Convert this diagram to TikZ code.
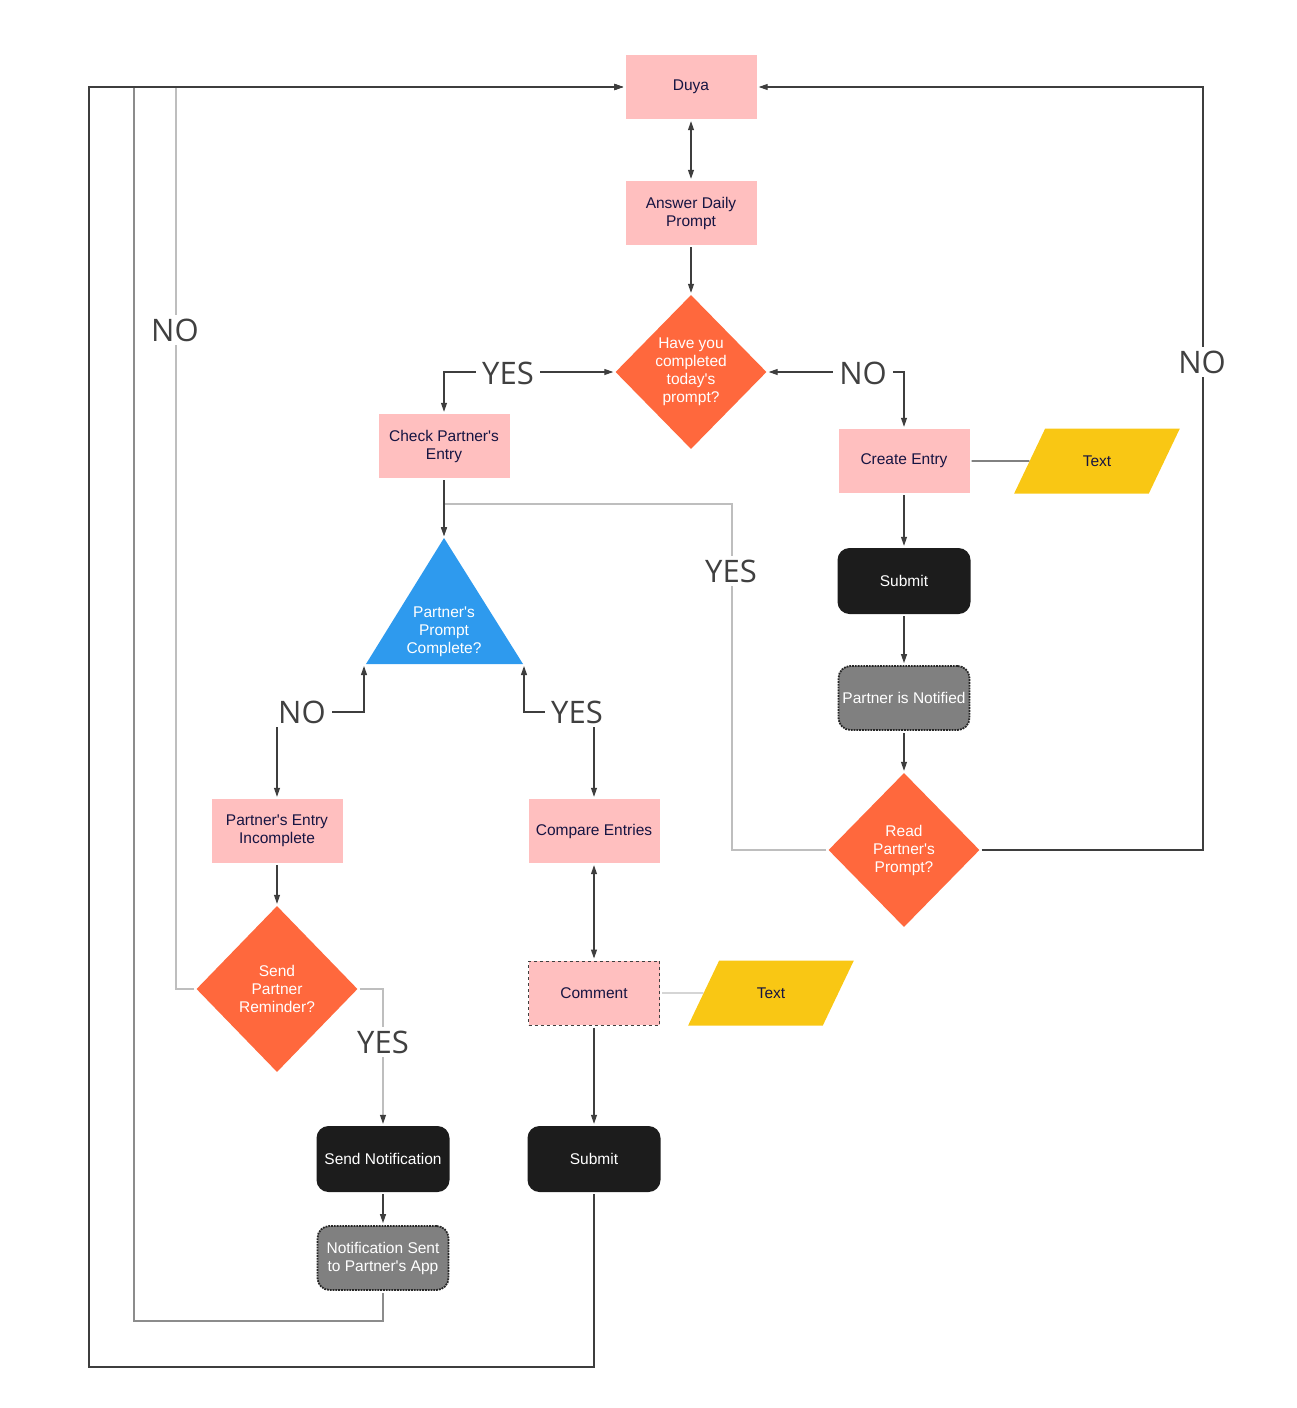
\documentclass[tikz,border=0pt]{standalone}
\usepackage{fontspec}
\setmainfont{Liberation Sans}
\newfontfamily\answerfont{Open Sans}
\usetikzlibrary{
  arrows.meta,
  backgrounds,
  shapes.geometric,
  positioning
}
\definecolor{pinkfill}{RGB}{255,191,191}
\definecolor{navytext}{RGB}{22,20,66}
\definecolor{orangefill}{RGB}{255,104,61}
\definecolor{bluefill}{RGB}{46,154,238}
\definecolor{darkfill}{RGB}{28,28,28}
\definecolor{grayfill}{RGB}{128,128,128}
\definecolor{yellowfill}{RGB}{249,199,20}
\definecolor{linedark}{RGB}{62,62,62}
\definecolor{linemid}{RGB}{140,140,140}
\definecolor{linefaint}{RGB}{190,190,190}
\tikzset{
  >={Triangle[length=9pt,width=6pt]},
  flow/.style={->,line width=1.1pt,draw=linedark,shorten >=2pt,shorten <=2pt},
  faint flow/.style={-{Triangle[length=9pt,width=6pt,color=linedark]},
    line width=1.1pt,draw=linefaint,shorten >=2pt,shorten <=2pt},
  mid flow/.style={-{Triangle[length=9pt,width=6pt,color=linedark]},
    line width=1.1pt,draw=linemid,shorten >=2pt,shorten <=2pt},
  link/.style={line width=1.1pt,draw=linedark,shorten <=2pt},
  faint link/.style={line width=1.1pt,draw=linefaint,shorten <=2pt},
  nodetext/.style={font=\fontsize{15.5}{18}\selectfont,align=center},
  pinkbox/.style={
    nodetext,
    rectangle,
    fill=pinkfill,
    text=navytext,
    minimum width=131pt,
    minimum height=64pt
  },
  decision/.style={
    nodetext,
    diamond,
    fill=orangefill,
    text=white,
    inner sep=0pt,
    minimum width=151pt,
    minimum height=154pt
  },
  darkbox/.style={
    nodetext,
    rounded corners=12pt,
    fill=darkfill,
    text=white,
    minimum width=133pt,
    minimum height=66pt
  },
  notebox/.style={
    nodetext,
    rounded corners=12pt,
    fill=grayfill,
    draw=black!85,
    densely dotted,
    line width=1.8pt,
    text=white,
    inner xsep=2pt,
    minimum width=131pt,
    minimum height=64pt
  },
  databox/.style={
    nodetext,
    trapezium,
    trapezium left angle=59,
    trapezium right angle=121,
    trapezium stretches=true,
    fill=yellowfill,
    text=navytext,
    minimum width=166pt,
    minimum height=65pt
  },
  answer/.style={
    font=\answerfont\fontsize{31}{31}\selectfont,
    text=black!75,
    fill=white,
    inner xsep=6pt,
    inner ysep=4pt
  }
}
\begin{document}
\begin{tikzpicture}[x=1pt,y=-1pt]
  \useasboundingbox (0,0) rectangle (1296,1408);

  % main column
  \node[pinkbox] (duya) at (691,87) {Duya};
  \node[pinkbox] (answer) at (691,213) {Answer Daily\\Prompt};
  \node[decision] (have) at (691,372) {Have you\\completed\\today\textquotesingle s\\prompt?};

  % own entry branch
  \node[pinkbox] (create) at (904,461) {Create Entry};
  \node[databox] (text1) at (1097,461) {Text};
  \node[darkbox] (submitr) at (904,581) {Submit};
  \node[notebox] (notified) at (904,698) {Partner is Notified};
  \node[decision] (read) at (904,850) {Read\\Partner\textquotesingle s\\Prompt?};

  % partner branch
  \node[pinkbox] (check) at (444,446) {Check Partner\textquotesingle s\\Entry};
  \coordinate (tri apex) at (444,538);
  \coordinate (tri left) at (366,664);
  \coordinate (tri right) at (523,664);
  \begin{scope}[on background layer]
    \fill[bluefill] (tri apex) -- (tri left) -- (tri right) -- cycle;
  \end{scope}
  \node[nodetext,text=white,inner sep=0pt] (tri) at (444,632) {Partner\textquotesingle s\\Prompt\\Complete?};

  \node[pinkbox] (pei) at (277,831) {Partner\textquotesingle s Entry\\Incomplete};
  \node[decision,minimum width=161pt,minimum height=166pt] (spr) at (277,989) {Send\\Partner\\Reminder?};
  \node[darkbox] (sendnote) at (383,1159) {Send Notification};
  \node[notebox] (sent) at (383,1258) {Notification Sent\\to Partner\textquotesingle s App};

  \node[pinkbox] (compare) at (594,831) {Compare Entries};
  \node[pinkbox,draw=black!75,dashed,line width=1pt] (comment) at (594,993) {Comment};
  \node[databox] (text2) at (771,993) {Text};
  \node[darkbox] (submitb) at (594,1159) {Submit};

  % turning points
  \coordinate (loopright) at (1203,600);
  \coordinate (yesjoin) at (732,504);
  \coordinate (tri no) at (364,712);
  \coordinate (tri yes) at (524,712);
  \coordinate (noleft) at (176,600);
  \coordinate (loopmid) at (134,1321);
  \coordinate (loopout) at (89,1367);

  \draw[faint flow] (spr.west) -| (noleft) |- (duya.west);
  \draw[mid flow] (sent.south) |- (loopmid) |- (duya.west);
  \draw[flow] (submitb.south) |- (loopout) |- (duya.west);

  \draw[flow,<->] (duya) -- (answer);
  \draw[flow] (answer) -- (have);
  \draw[flow,<->] (check.north) |- (have.west);
  \draw[flow,<->] (create.north) |- (have.east);
  \draw[link] (create) -- (text1);
  \draw[flow] (create) -- (submitr);
  \draw[flow] (submitr) -- (notified);
  \draw[flow] (notified) -- (read);
  \draw[flow] (read.east) -| (loopright) |- (duya.east);
  \draw[faint flow] (read.west) -| (yesjoin) -| (tri apex);
  \draw[flow] (check.south) -- (tri apex);
  \draw[flow,<->] (pei.north) |- (tri no) -- (tri no |- tri left);
  \draw[flow,<->] (compare.north) |- (tri yes) -- (tri yes |- tri right);
  \draw[flow] (pei) -- (spr);
  \draw[faint flow] (spr.east) -| (sendnote.north);
  \draw[flow] (sendnote) -- (sent);
  \draw[flow,<->] (compare) -- (comment);
  \draw[faint link] (comment) -- (text2);
  \draw[flow] (comment) -- (submitb);

  % branch labels
  \node[answer] (yes top) at (508,373) {YES};
  \node[answer] (no right) at (863,373) {NO};
  \node[answer] (no far) at (1202,362) {NO};
  \node[answer] (yes read) at (731,571) {YES};
  \node[answer] (no tri) at (302,712) {NO};
  \node[answer] (yes tri) at (577,712) {YES};
  \node[answer] (no spr) at (175,330) {NO};
  \node[answer] (yes spr) at (383,1042) {YES};
\end{tikzpicture}
\end{document}
